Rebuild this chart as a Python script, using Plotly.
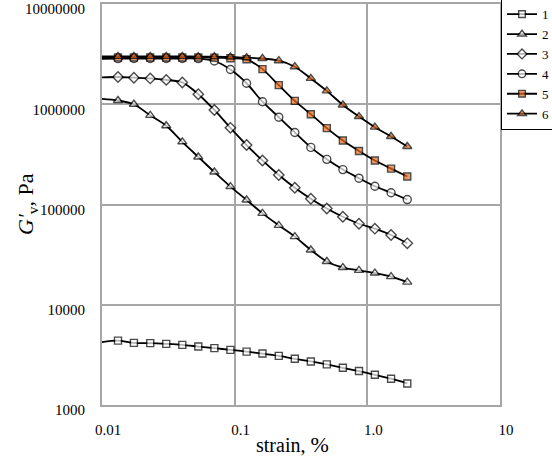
import plotly.graph_objects as go

# ---- data ----
strain = [0.0099, 0.0132, 0.0174, 0.0231, 0.0305, 0.0403, 0.0532, 0.0703, 0.0929, 0.123,
          0.162, 0.215, 0.284, 0.375, 0.495, 0.654, 0.865, 1.14, 1.51, 2.0]

g1 = [4240, 4390, 4170, 4140, 4070, 3980, 3830, 3690, 3550, 3410,
      3260, 3090, 2890, 2720, 2540, 2350, 2180, 2000, 1830, 1640]
g2 = [1130000, 1090000, 1000000, 774000, 611000, 422000, 298000, 211000, 151000, 111000,
      81500, 61900, 47800, 35200, 27000, 23500, 22000, 20700, 19100, 16800]
g3 = [1850000, 1870000, 1840000, 1810000, 1750000, 1650000, 1260000, 877000, 582000, 392000,
      275000, 197000, 147000, 114000, 91300, 75500, 64300, 57400, 49600, 41000]
g4 = [2840000, 2850000, 2860000, 2860000, 2860000, 2860000, 2850000, 2700000, 2220000, 1620000,
      1060000, 743000, 523000, 371000, 282000, 223000, 183000, 152000, 131000, 112000]
g5 = [2920000, 2930000, 2930000, 2930000, 2930000, 2930000, 2930000, 2920000, 2880000, 2810000,
      2240000, 1550000, 1080000, 796000, 578000, 435000, 342000, 275000, 228000, 190000]
g6 = [3000000, 3000000, 3000000, 3000000, 3000000, 3000000, 2990000, 2980000, 2960000, 2910000,
      2860000, 2720000, 2370000, 1810000, 1360000, 984000, 754000, 591000, 477000, 379000]

series_names = ["1", "2", "3", "4", "5", "6"]
x_tick_vals = [0.01, 0.1, 1, 10]
x_tick_text = ["0.01", "0.1", "1.0", "10"]
y_tick_vals = [1e3, 1e4, 1e5, 1e6, 1e7]
y_tick_text = ["1000", "10000", "100000", "1000000", "10000000"]

ORANGE = "#EB6E1F"
styles = [
    dict(symbol="square", color="white", size=7),
    dict(symbol="triangle-up", color="white", size=8),
    dict(symbol="diamond", color="white", size=8),
    dict(symbol="circle", color="white", size=8),
    dict(symbol="square", color=ORANGE, size=7),
    dict(symbol="triangle-up", color=ORANGE, size=8),
]

fig = go.Figure()
for name, ys, st in zip(series_names, [g1, g2, g3, g4, g5, g6], styles):
    sizes = [0] + [st["size"]] * (len(strain) - 1)
    fig.add_trace(go.Scatter(
        x=strain, y=ys, name=name, mode="lines+markers",
        line=dict(color="black", width=1.8, shape="spline", smoothing=0.8),
        marker=dict(symbol=st["symbol"], color=st["color"], size=sizes,
                    line=dict(color="black", width=1.4)),
    ))

GRID = "#A6A6A6"
fig.update_layout(
    width=552, height=458,
    margin=dict(l=102, r=52, t=4, b=53, autoexpand=False),
    paper_bgcolor="white", plot_bgcolor="white",
    font=dict(family="Liberation Serif", size=15, color="black"),
    showlegend=True,
    legend=dict(x=(501 - 102) / 398, xanchor="left", y=1.0145, yanchor="top",
                bordercolor="black", borderwidth=1, bgcolor="white",
                font=dict(family="Liberation Serif", size=13, color="black"),
                tracegroupgap=0, itemwidth=30),
    xaxis=dict(type="log", range=[-2, 1], tickvals=x_tick_vals, ticktext=x_tick_text,
               showgrid=True, gridcolor=GRID, gridwidth=2, automargin=False,
               showline=True, linecolor=GRID, linewidth=2, mirror=True,
               zeroline=False, ticks="", ticklabelstandoff=10, ticklabelshift=6),
    yaxis=dict(type="log", range=[3, 7], tickvals=y_tick_vals, ticktext=y_tick_text,
               showgrid=True, gridcolor=GRID, gridwidth=2, automargin=False,
               showline=True, linecolor=GRID, linewidth=2, mirror=True,
               zeroline=False, ticks="", ticklabelstandoff=12, ticklabelshift=5),
    annotations=[
        dict(text="strain, <span style='font-size:22px'>%</span>", xref="paper", yref="paper",
             x=(292 - 102) / 398, y=(405 - 444) / 401, xanchor="center", yanchor="middle",
             showarrow=False, font=dict(family="Liberation Serif", size=20, color="black")),
        dict(text="<i>G′</i><sub>v</sub>, Pa", xref="paper", yref="paper",
             x=(27 - 102) / 398, y=(405 - 204) / 401, xanchor="center", yanchor="middle",
             textangle=-90, showarrow=False,
             font=dict(family="Liberation Serif", size=22, color="black")),
    ],
)

fig.write_html("out.html", config={"displayModeBar": False},
               post_script="document.body.style.margin='0';document.body.style.overflow='hidden';")
